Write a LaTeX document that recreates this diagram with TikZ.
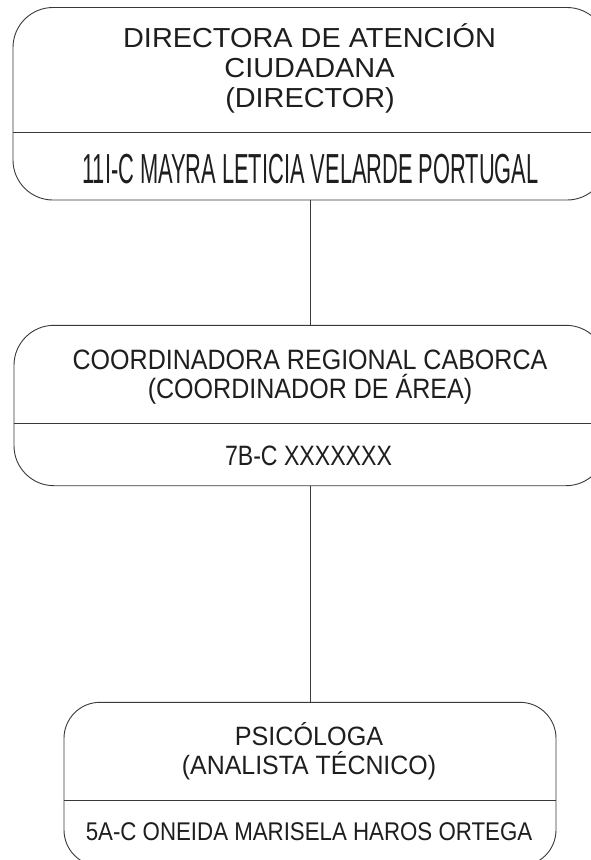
\documentclass[tikz,border=0pt]{standalone}
\usepackage{fontspec}
\usepackage{graphicx}
\setmainfont{Liberation Sans}
\definecolor{linegray}{HTML}{3A3A3A}
\definecolor{textgray}{HTML}{1E1E1E}
\newcommand\mylbl[3]{\scalebox{#1}[1]{\fontsize{#2}{#2}\selectfont #3}}
\tikzset{
  orgbox/.style={draw=linegray, line width=0.9pt, rectangle, inner sep=0pt, rounded corners=40pt},
  divline/.style={draw=linegray, line width=0.9pt},
  conn/.style={draw=linegray, line width=0.9pt},
  txt/.style={anchor=base, inner sep=0pt, text=textgray}
}
\begin{document}
\begin{tikzpicture}[x=1pt,y=-1pt]
\useasboundingbox[fill=white] (0,0) rectangle (590,860);
% boxes
\node[orgbox, minimum width=594pt, minimum height=192.5pt] (b1) at (310,103.75) {};
\node[orgbox, minimum width=592pt, minimum height=160.4pt] (b2) at (310,405.5) {};
\node[orgbox, rounded corners=36pt, minimum width=492pt, minimum height=163.7pt] (b3) at (310,784.15) {};
% dividers
\draw[divline] (b1.west |- {(0,132.5)}) -- (b1.east |- {(0,132.5)});
\draw[divline] (b2.west |- {(0,423)}) -- (b2.east |- {(0,423)});
\draw[divline] (b3.west |- {(0,800)}) -- (b3.east |- {(0,800)});
% connectors
\draw[conn] (b1.south) -- (b2.north);
\draw[conn] (b2.south) -- (b3.north);
% texts box 1
\node[txt] (t11) at (309.5,47) {\mylbl{1.05}{27.5}{DIRECTORA DE ATENCIÓN}};
\node[txt] (t12) at (309.5,77) {\mylbl{1.05}{27.5}{CIUDADANA}};
\node[txt] (t13) at (310,107) {\mylbl{1.05}{27.5}{(DIRECTOR)}};
\node[txt] (t14) at (310.5,183) {\mylbl{0.52}{42}{11I-C MAYRA LETICIA VELARDE PORTUGAL}};
% texts box 2
\node[txt] (t21) at (310,369) {\mylbl{0.895}{28}{COORDINADORA REGIONAL CABORCA}};
\node[txt] (t22) at (310,398) {\mylbl{0.895}{28}{(COORDINADOR DE ÁREA)}};
\node[txt] (t23) at (308.5,465) {\mylbl{0.825}{28}{7B-C XXXXXXX}};
% texts box 3
\node[txt] (t31) at (309,745) {\mylbl{0.95}{26.5}{PSICÓLOGA}};
\node[txt] (t32) at (309,774) {\mylbl{0.94}{26.5}{(ANALISTA TÉCNICO)}};
\node[txt] (t33) at (309,840) {\mylbl{0.87}{25.6}{5A-C ONEIDA MARISELA HAROS ORTEGA}};
\end{tikzpicture}
\end{document}
